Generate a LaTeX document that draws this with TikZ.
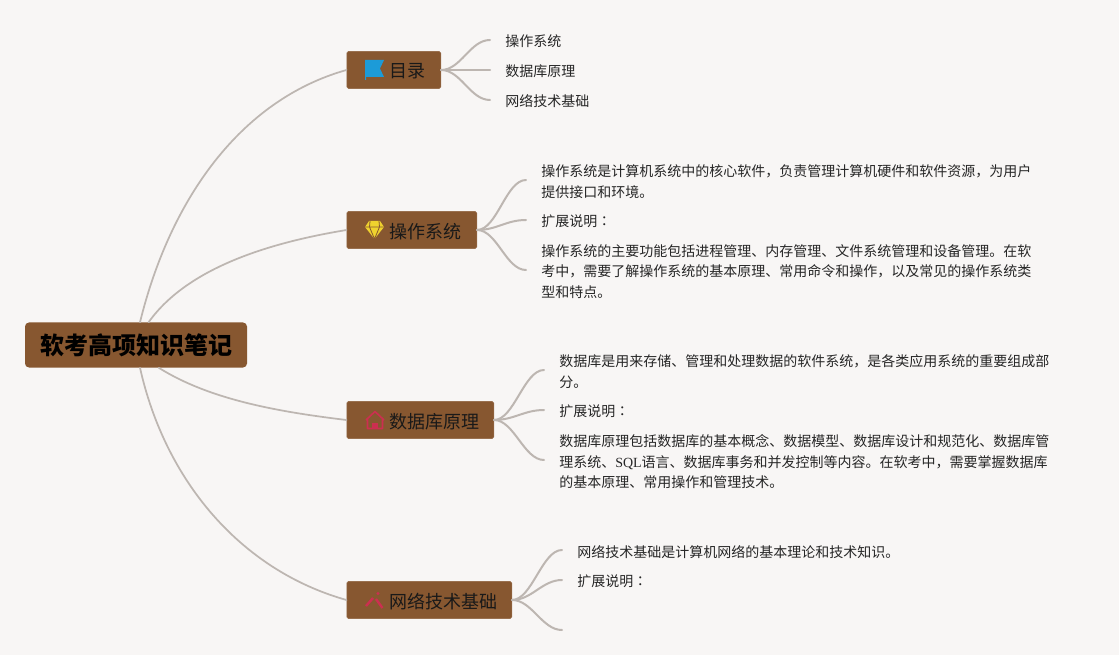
\documentclass[tikz,border=0pt]{standalone}
\usepackage{xcolor}
\usepackage{fontspec}
\setmainfont{Noto Sans CJK SC}
\newfontfamily\latinserif{Liberation Serif}
\newfontfamily\colonfont{Noto Sans CJK TC}
\definecolor{paper}{HTML}{F8F6F5}
\definecolor{bark}{HTML}{875730}
\definecolor{twig}{HTML}{BDB6B1}
\definecolor{flagblue}{HTML}{1C9BD8}
\definecolor{gemyellow}{HTML}{EFD22E}
\definecolor{iconred}{HTML}{CC2F50}
\tikzset{
	rootbox/.style={fill=bark, rounded corners=3pt, minimum width=222*0.75pt, minimum height=45*0.75pt, inner sep=0pt, font=\fontsize{18}{22}\selectfont\bfseries},
	topicbox/.style={fill=bark, draw=bark!85!white, line width=0.4pt, rounded corners=1.2pt, minimum height=37*0.75pt, anchor=west, inner sep=0pt},
	topictext/.style={anchor=west, inner sep=0pt, text=black!90, font=\fontsize{13.5}{16}\selectfont},
	leaf/.style={anchor=west, inner xsep=15*0.75pt, inner ysep=0pt, align=left, text=black!85, font=\fontsize{10.5}{15.4}\selectfont},
	twigline/.style={draw=twig, line width=1.3pt, line cap=round}
}
\newcommand{\extlabel}{扩展说明{\colonfont ：}}
\begin{document}
\begin{tikzpicture}[x=0.75pt, y=-0.75pt]
	\useasboundingbox (0,0) rectangle (1119,655);
	\fill [paper] (0,0) rectangle (1119,655);

	\node [rootbox] (root) at (136,345) {软考高项知识笔记};

	\node [topicbox, minimum width=94*0.75pt] (mulu) at (346.500,70) {};
	\node [topicbox, minimum width=130*0.75pt] (caozuo) at (346.500,230) {};
	\node [topicbox, minimum width=147*0.75pt] (shuju) at (346.500,420) {};
	\node [topicbox, minimum width=165*0.75pt] (wangluo) at (346.500,600) {};

	\node [topictext] (muluT) at (389,71.500) {目录};
	\node [topictext] (caozuoT) at (389,231.500) {操作系统};
	\node [topictext] (shujuT) at (389,421.500) {数据库原理};
	\node [topictext] (wangluoT) at (389,601.500) {网络技术基础};

	% icons
	\fill [flagblue] (365,60) -- (384,60) -- (380,68.500) -- (384,77) -- (366,77) -- (366,80) -- (365,80) -- cycle;
	\fill [gemyellow] (369,221) -- (380,221) -- (384,227) -- (374.500,239) -- (365,227) -- cycle;
	\draw [bark, line width=0.6pt] (365,227) -- (384,227) (370,221) -- (369.500,227) -- (374.500,239) -- (379.500,227) -- (379,221);
	\draw [iconred, line width=1.2pt, line join=round] (366,420) -- (375,411.500) -- (384,420) (367.500,419) -- (367.500,428.500) -- (382.500,428.500) -- (382.500,419);
	\fill [iconred] (372,428) -- (372,423) -- (378,423) -- (378,428) -- cycle;
	\draw [iconred, line width=1.8pt] (366,606) -- (373,598) (376,599) -- (382.500,608);
	\fill [iconred] (378,593.500) circle (1.700);

	% leaves
	\node [leaf] (a1) at (490,41.600) {操作系统};
	\node [leaf] (a2) at (490,71.600) {数据库原理};
	\node [leaf] (a3) at (490,101.600) {网络技术基础};

	\node [leaf] (b1) at (526,181.600) {操作系统是计算机系统中的核心软件，负责管理计算机硬件和软件资源，为用户\\提供接口和环境。};
	\node [leaf] (b2) at (526,221.600) {\extlabel};
	\node [leaf] (b3) at (526,271.600) {操作系统的主要功能包括进程管理、内存管理、文件系统管理和设备管理。在软\\考中，需要了解操作系统的基本原理、常用命令和操作，以及常见的操作系统类\\型和特点。};

	\node [leaf] (c1) at (544,371.600) {数据库是用来存储、管理和处理数据的软件系统，是各类应用系统的重要组成部\\分。};
	\node [leaf] (c2) at (544,411.600) {\extlabel};
	\node [leaf] (c3) at (544,461.600) {数据库原理包括数据库的基本概念、数据模型、数据库设计和规范化、数据库管\\理系统、{\latinserif SQL}语言、数据库事务和并发控制等内容。在软考中，需要掌握数据库\\的基本原理、常用操作和管理技术。};

	\node [leaf] (d1) at (562,551.600) {网络技术基础是计算机网络的基本理论和技术知识。};
	\node [leaf] (d2) at (562,581.600) {\extlabel};
	\coordinate (d3) at (562,631.600);

	% branches
	\draw [twigline] (root.80) .. controls (170,200) and (240,100) .. (mulu.west);
	\draw [twigline] (root.61) .. controls (190,264) and (280,241) .. (caozuo.west);
	\draw [twigline] (root.-45) .. controls (210,400) and (280,412) .. (shuju.west);
	\draw [twigline] (root.-80) .. controls (165,480) and (240,570) .. (wangluo.west);

	\foreach \from/\to in {mulu/a1, mulu/a2, mulu/a3, caozuo/b1, caozuo/b2, caozuo/b3, shuju/c1, shuju/c2, shuju/c3, wangluo/d1, wangluo/d2, wangluo/d3}{
		\draw [twigline, line width=1.5pt] (\from.east) .. controls ([xshift=15]\from.east) and ([xshift=-15,yshift=1.2]\to.west) .. ([yshift=1.2]\to.west);
	}
\end{tikzpicture}
\end{document}
